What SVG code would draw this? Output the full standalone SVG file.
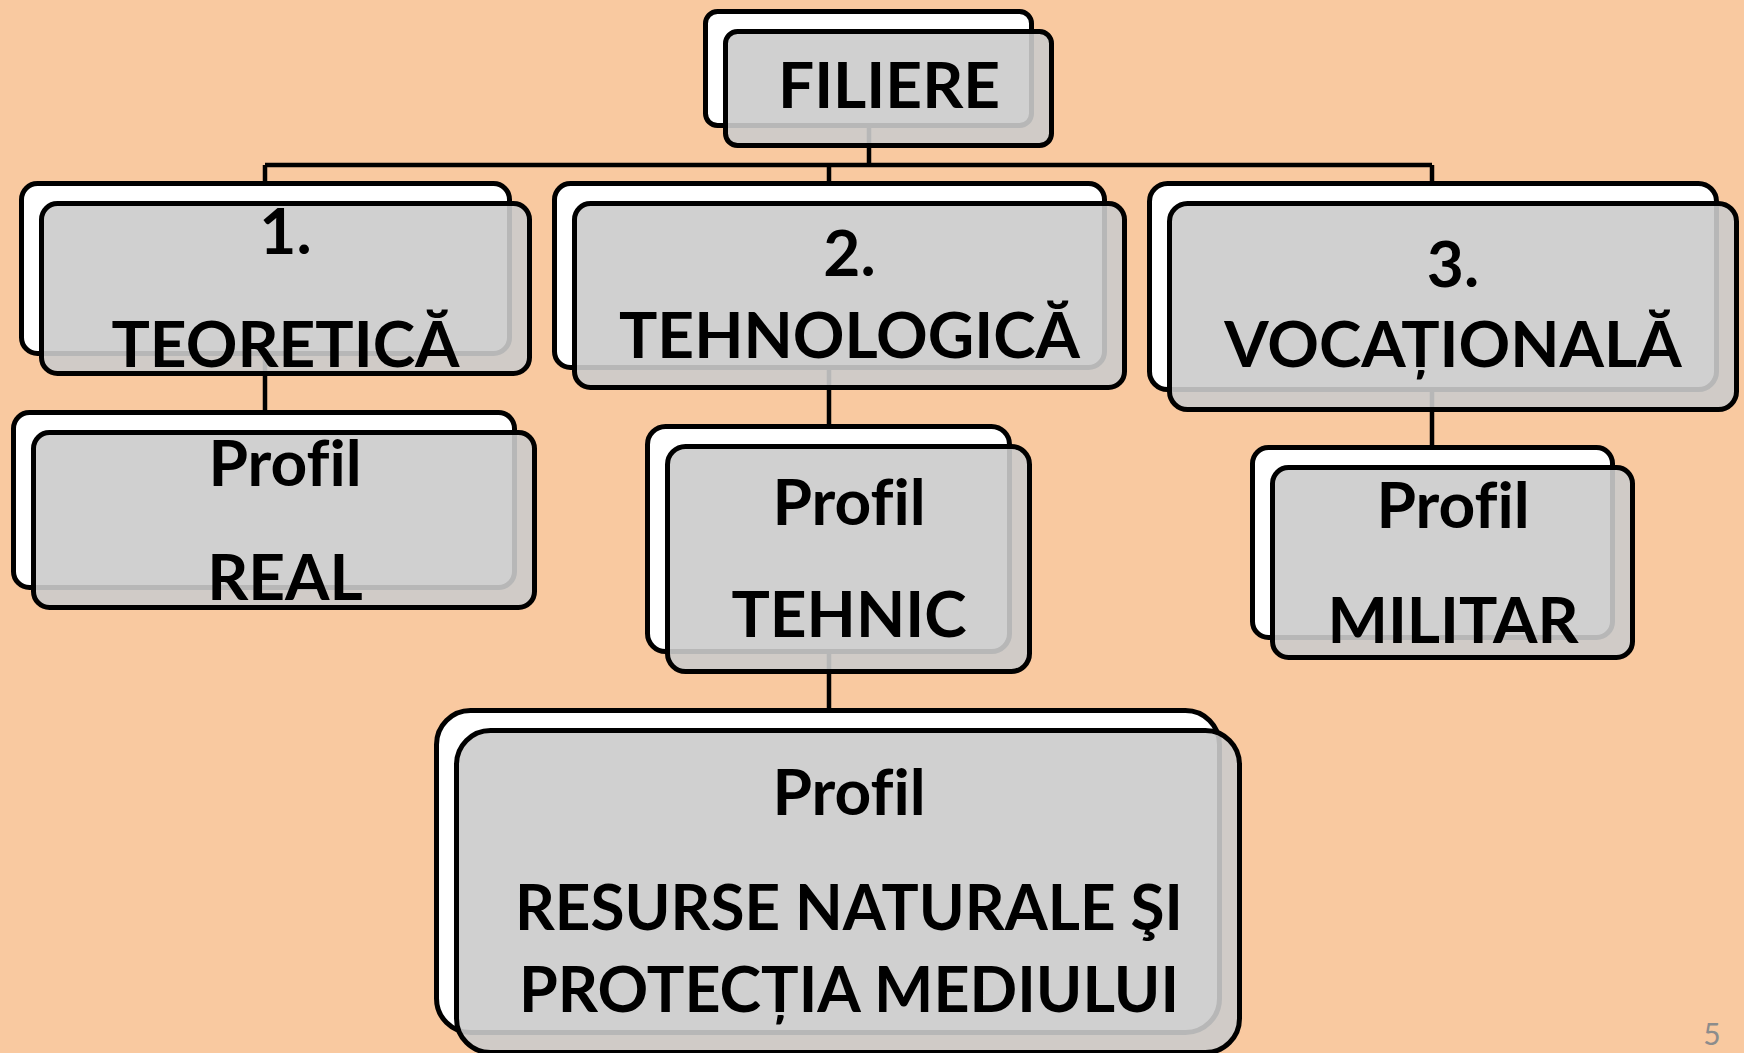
<svg xmlns="http://www.w3.org/2000/svg" width="1744" height="1053" viewBox="0 0 1744 1053">
<style>
.back{fill:#ffffff;stroke:#000;stroke-width:5}
.front{fill:#cbcbcb;fill-opacity:0.9;stroke:#000;stroke-width:5}
.conn{stroke:#000;stroke-width:4.5;fill:none}
.t{font-family:Lato,"Open Sans","Liberation Sans",sans-serif;font-weight:700;font-size:64px;fill:#000;text-anchor:middle;font-variant-ligatures:none;font-feature-settings:"liga" 0}
.pg{font-family:Lato,"Liberation Sans",sans-serif;font-size:30px;fill:#8c8c8c;text-anchor:middle}
</style>
<rect x="0" y="0" width="1744" height="1053" fill="#f9c9a0"/>
<g id="connectors">
<path class="conn" d="M869 128V165M265 165H1432M265 165V183M829 165V183M1432 165V183"/>
<path class="conn" d="M265 356V412"/>
<path class="conn" d="M829 370V426"/>
<path class="conn" d="M1432 391V447"/>
<path class="conn" d="M829 654V710"/>
</g>
<g id="filiere">
<rect class="back" x="705.5" y="11.5" width="326" height="114" rx="12"/>
<rect class="front" x="725.5" y="31.5" width="326" height="114" rx="12"/>
<text class="t" x="889" y="108">FILIERE</text>
</g>
<g id="teoretica">
<rect class="back" x="21.5" y="183.5" width="488" height="170" rx="16"/>
<rect class="front" x="41.5" y="203.5" width="488" height="170" rx="16"/>
<text class="t" x="285.5" y="254">1.</text>
<text class="t" x="285.5" y="367">TEORETICĂ</text>
</g>
<g id="tehnologica">
<rect class="back" x="554.5" y="183.5" width="550" height="184" rx="16"/>
<rect class="front" x="574.5" y="203.5" width="550" height="184" rx="16"/>
<text class="t" x="849.5" y="276">2.</text>
<text class="t" x="849.5" y="358">TEHNOLOGICĂ</text>
</g>
<g id="vocationala">
<rect class="back" x="1149.5" y="183.5" width="567" height="206" rx="18"/>
<rect class="front" x="1169.5" y="203.5" width="567" height="206" rx="18"/>
<text class="t" x="1453" y="287">3.</text>
<text class="t" x="1453" y="367">VOCAȚIONALĂ</text>
</g>
<g id="real">
<rect class="back" x="13.5" y="412.5" width="501" height="175" rx="16"/>
<rect class="front" x="33.5" y="432.5" width="501" height="175" rx="16"/>
<text class="t" x="285" y="486">Profil</text>
<text class="t" x="285" y="600">REAL</text>
</g>
<g id="tehnic">
<rect class="back" x="647.5" y="426.5" width="362" height="225" rx="18"/>
<rect class="front" x="667.5" y="446.5" width="362" height="225" rx="18"/>
<text class="t" x="849" y="525">Profil</text>
<text class="t" x="849" y="637">TEHNIC</text>
</g>
<g id="militar">
<rect class="back" x="1252.5" y="447.5" width="360" height="190" rx="16"/>
<rect class="front" x="1272.5" y="467.5" width="360" height="190" rx="16"/>
<text class="t" x="1453" y="528">Profil</text>
<text class="t" x="1453" y="643">MILITAR</text>
</g>
<g id="resurse">
<rect class="back" x="436.5" y="710.5" width="783" height="322" rx="34"/>
<rect class="front" x="456.5" y="730.5" width="783" height="322" rx="34"/>
<text class="t" x="849" y="815">Profil</text>
<text class="t" x="849" y="930" textLength="668" lengthAdjust="spacingAndGlyphs">RESURSE NATURALE ŞI</text>
<text class="t" x="849" y="1012" textLength="660" lengthAdjust="spacingAndGlyphs">PROTECȚIA MEDIULUI</text>
</g>
<text class="pg" x="1712" y="1045">5</text>
</svg>
